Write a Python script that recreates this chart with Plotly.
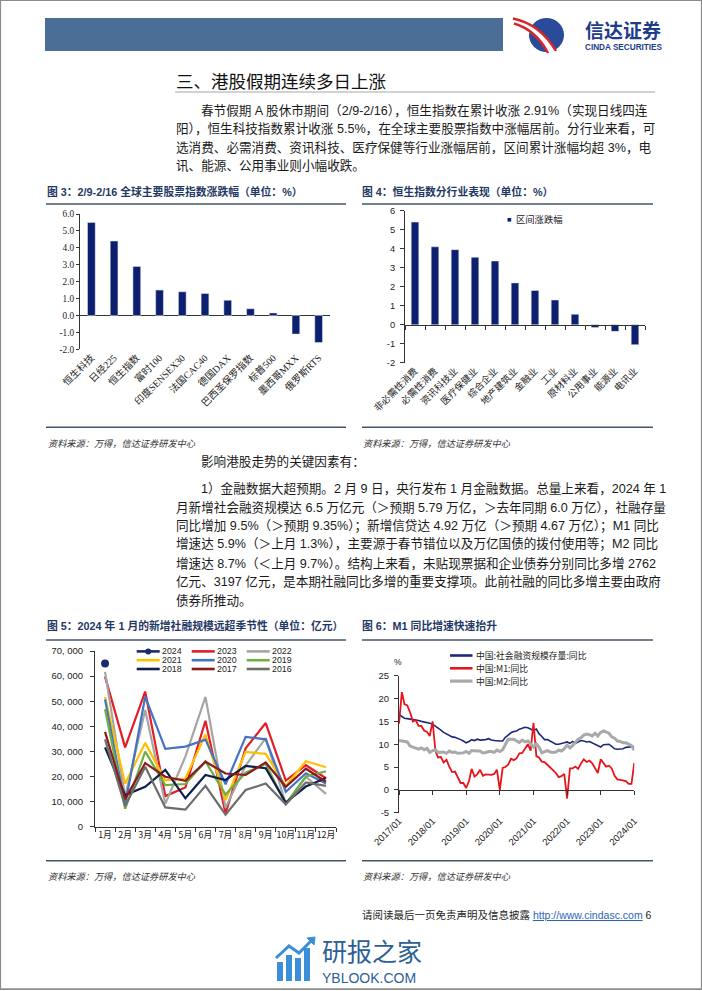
import plotly.graph_objects as go

W, H = 702, 991


def X(p):
    return p / W


def Y(p):
    return 1 - p / H


# ---------------- data ----------------
idx_names = ["恒生科技", "日经225", "恒生指数", "富时100", "印度SENSEX30", "法国CAC40",
             "德国DAX", "巴西圣保罗指数", "标普500", "墨西哥MXX", "俄罗斯RTS"]
idx_chg = [5.5, 4.4, 2.9, 1.5, 1.4, 1.3, 0.9, 0.4, 0.15, -1.1, -1.6]
c3_ticks = [-2, -1, 0, 1, 2, 3, 4, 5, 6]
c3_ticktext = ["-2.0", "-1.0", "0.0", "1.0", "2.0", "3.0", "4.0", "5.0", "6.0"]

sector_names = ["非必需性消费", "必需性消费", "资讯科技业", "医疗保健业", "综合企业", "地产建筑业",
                "金融业", "工业", "原材料业", "公用事业", "能源业", "电讯业"]
sector_chg = [5.4, 4.1, 3.95, 3.55, 3.35, 2.2, 1.8, 1.3, 0.55, -0.15, -0.35, -1.05]
sector_legend = "区间涨跌幅"
c4_ticks = [-2, -1, 0, 1, 2, 3, 4, 5, 6]
c4_ticktext = ["-2", "-1", "0", "1", "2", "3", "4", "5", "6"]

months = ["1月", "2月", "3月", "4月", "5月", "6月", "7月", "8月", "9月", "10月", "11月", "12月"]
tsf_2024 = [65000]
tsf_2023 = [59800, 31600, 53800, 12200, 15600, 42200, 5300, 31200, 41300, 18400, 24500, 19300]
tsf_2022 = [61700, 11900, 46500, 9100, 27900, 51700, 7600, 24300, 35300, 9100, 19900, 13100]
tsf_2021 = [51700, 17100, 33400, 18500, 19200, 36700, 10600, 29800, 29000, 16200, 26100, 23700]
tsf_2020 = [50700, 8600, 51800, 31000, 31900, 34700, 16900, 35800, 34800, 13900, 21300, 17200]
tsf_2019 = [46800, 7100, 29900, 16600, 17000, 26000, 12800, 21500, 25000, 9000, 20000, 22100]
tsf_2018 = [31600, 12600, 15900, 22600, 11300, 20600, 18600, 24200, 23300, 9600, 16000, 19400]
tsf_2017 = [37800, 11000, 25300, 19900, 18300, 25900, 21200, 20600, 25600, 15900, 23100, 17900]
tsf_2016 = [34800, 8200, 23900, 7700, 6800, 16300, 4800, 14600, 17200, 8900, 17600, 16300]
tsf_years = ["2024", "2023", "2022", "2021", "2020", "2019", "2018", "2017", "2016"]
tsf_series = [tsf_2024, tsf_2023, tsf_2022, tsf_2021, tsf_2020, tsf_2019, tsf_2018, tsf_2017, tsf_2016]
c5_ticks = [0, 10000, 20000, 30000, 40000, 50000, 60000, 70000]
c5_ticktext = ["0", "10, 000", "20, 000", "30, 000", "40, 000", "50, 000", "60, 000", "70, 000"]

tsf_stock_yoy = [
    16.5, 16.0, 15.7, 15.6, 15.5, 15.5, 15.3, 15.2, 15.0, 14.9, 14.8, 14.6,
    14.4, 14.0, 13.5, 13.1, 12.6, 12.3, 12.0, 11.6, 11.5, 11.3, 11.0, 10.7,
    10.3, 10.6, 11.0, 10.8, 11.1, 10.9, 10.9, 11.0, 11.2, 10.9, 10.8, 10.7,
    10.7, 10.7, 11.5, 12.0, 12.5, 12.8, 12.9, 13.3, 13.5, 13.7, 13.6, 13.3,
    13.0, 13.3, 12.3, 11.7, 11.0, 11.0, 10.7, 10.3, 10.0, 10.0, 10.1, 10.3,
    10.5, 10.2, 10.6, 10.2, 10.5, 10.8, 10.7, 10.5, 10.6, 10.3, 10.0, 9.6,
    9.4, 9.9, 10.0, 10.0, 9.5, 9.0, 8.9, 9.0, 9.0, 9.3, 9.4, 9.5,
    9.5]
m1_yoy = [
    14.5, 21.4, 18.8, 18.5, 17.0, 15.0, 15.3, 14.0, 14.0, 13.0, 12.7, 11.8,
    15.0, 8.5, 7.1, 7.2, 6.0, 6.6, 5.1, 3.9, 4.0, 2.7, 1.5, 1.5,
    0.4, 2.0, 4.6, 2.9, 3.4, 4.4, 3.1, 3.4, 3.4, 3.3, 3.5, 4.4,
    0.0, 4.8, 5.0, 5.5, 6.8, 6.5, 6.9, 8.0, 8.1, 9.1, 10.0, 8.6,
    14.7, 7.4, 7.1, 6.2, 6.1, 5.5, 4.9, 4.2, 3.7, 2.8, 3.0, 3.5,
    -1.9, 4.7, 4.7, 5.1, 4.6, 5.8, 6.7, 6.1, 6.4, 5.8, 4.6, 3.7,
    6.7, 5.8, 5.1, 5.3, 4.7, 3.1, 2.3, 2.2, 2.1, 1.9, 1.3, 1.3,
    5.9]
m2_yoy = [
    10.8, 10.7, 10.6, 10.5, 9.6, 9.4, 9.2, 8.9, 9.2, 8.8, 9.1, 8.2,
    8.6, 8.8, 8.2, 8.3, 8.3, 8.0, 8.5, 8.2, 8.3, 8.0, 8.0, 8.1,
    8.4, 8.0, 8.6, 8.5, 8.5, 8.5, 8.1, 8.2, 8.4, 8.4, 8.2, 8.7,
    8.4, 8.8, 10.1, 11.1, 11.1, 11.1, 10.7, 10.4, 10.9, 10.5, 10.7, 10.1,
    9.4, 10.1, 9.4, 8.1, 8.3, 8.6, 8.3, 8.2, 8.3, 8.7, 8.5, 9.0,
    9.8, 9.2, 9.7, 10.5, 11.1, 11.4, 12.0, 12.2, 12.1, 11.8, 12.4, 11.8,
    12.6, 12.9, 12.7, 12.4, 11.6, 11.3, 10.7, 10.6, 10.3, 10.3, 10.0, 9.7,
    8.7]
c6_names = ["中国:社会融资规模存量:同比", "中国:M1:同比", "中国:M2:同比"]
c6_dates = [f"{2017 + i // 12}-{i % 12 + 1:02d}-01" for i in range(len(m1_yoy))]
c6_tickvals = ["2017-01-01", "2018-01-01", "2019-01-01", "2020-01-01",
               "2021-01-01", "2022-01-01", "2023-01-01", "2024-01-01"]
c6_ticktext = ["2017/01", "2018/01", "2019/01", "2020/01", "2021/01", "2022/01", "2023/01", "2024/01"]
c6_yticks = [-5, 0, 5, 10, 15, 20, 25]
c6_yticktext = ["-5", "0", "5", "10", "15", "20", "25"]

# ---------------- styles ----------------
SANS = "Liberation Sans, Noto Sans CJK SC, sans-serif"
SERIF = "Liberation Serif, Noto Sans CJK SC, serif"
CJK = "Noto Sans CJK SC, sans-serif"
BAR = "#0d1f6e"
AX = "#333333"
TITLE_C = "#1f3864"
RULE_C = "#44546a"
tsf_colors = ["#1a2a6c", "#e31e24", "#a5a5a5", "#ffc000", "#4472c4", "#70ad47",
              "#0f1e4a", "#8b1a1a", "#6d6d6d"]
c6_colors = ["#1b2a78", "#e8141c", "#a9a9a9"]
c6_widths = [1.6, 1.8, 3.0]

# plot areas in page pixels (left, right, top, bottom)
A3 = (80, 330, 214, 349.3)
A4 = (405, 645, 210.7, 362.7)
A5 = (95, 336, 651, 826.7)
A6 = (399, 634.3, 675.7, 812.7)


def dom(a):
    return [X(a[0]), X(a[1])], [Y(a[3]), Y(a[2])]


def zero_pos(a, lo, hi):
    return Y(a[2] + (hi - 0) / (hi - lo) * (a[3] - a[2]))


fig = go.Figure()

# chart 3
fig.add_trace(go.Bar(x=idx_names, y=idx_chg, marker_color=BAR, width=0.34,
                     xaxis="x", yaxis="y", showlegend=False))
# chart 4
fig.add_trace(go.Bar(x=sector_names, y=sector_chg, marker_color=BAR, width=0.38,
                     xaxis="x2", yaxis="y2", name=sector_legend, showlegend=False))
fig.add_trace(go.Scatter(x=sector_names, y=[None] * len(sector_names), mode="lines",
                         xaxis="x5", yaxis="y2", showlegend=False, hoverinfo="skip"))
# chart 5
for yr, vals, col in zip(tsf_years, tsf_series, tsf_colors):
    if len(vals) == 1:
        fig.add_trace(go.Scatter(x=months[:len(vals)], y=vals, mode="markers", name=yr,
                                 marker=dict(color=col, size=8), xaxis="x3", yaxis="y3",
                                 showlegend=False))
    else:
        fig.add_trace(go.Scatter(x=months[:len(vals)], y=vals, mode="lines", name=yr,
                                 line=dict(color=col, width=2.2), xaxis="x3", yaxis="y3",
                                 showlegend=False))
# chart 6
for nm, vals, col, wd in zip(c6_names, [tsf_stock_yoy, m1_yoy, m2_yoy], c6_colors, c6_widths):
    fig.add_trace(go.Scatter(x=c6_dates, y=vals, mode="lines", name=nm,
                             line=dict(color=col, width=wd), xaxis="x4", yaxis="y4",
                             showlegend=False))
fig.add_trace(go.Scatter(x=[c6_dates[0], c6_dates[-1]], y=[None, None], mode="lines",
                         xaxis="x6", yaxis="y4", showlegend=False, hoverinfo="skip"))

d3x, d3y = dom(A3)
d4x, d4y = dom(A4)
d5x, d5y = dom(A5)
d6x, d6y = dom(A6)

common = dict(showgrid=False, automargin=False, fixedrange=True)

fig.update_layout(
    width=W, height=H, autosize=False,
    margin=dict(l=0, r=0, t=0, b=0),
    paper_bgcolor="white", plot_bgcolor="rgba(0,0,0,0)",
    showlegend=False,
    xaxis=dict(domain=d3x, anchor="y", type="category", range=[-0.5, 10.5],
               showline=False, ticks="", tickangle=-45,
               tickfont=dict(family=SERIF, size=9.8, color="#222"), **common),
    yaxis=dict(domain=d3y, anchor="x", range=[-2, 6], tickvals=c3_ticks, ticktext=c3_ticktext,
               showline=True, linecolor=AX, linewidth=1, ticks="outside", ticklen=3,
               tickcolor=AX, tickfont=dict(family=SERIF, size=9.3, color="#222"),
               zeroline=True, zerolinecolor=AX, zerolinewidth=1, **common),
    xaxis2=dict(domain=d4x, anchor="y2", type="category", range=[-0.5, 11.5],
                showline=False, ticks="", tickangle=-45,
                tickfont=dict(family=SERIF, size=9.5, color="#222"), **common),
    yaxis2=dict(domain=d4y, anchor="x2", range=[-2, 6], tickvals=c4_ticks, ticktext=c4_ticktext,
                showline=True, linecolor=AX, linewidth=1, ticks="outside", ticklen=4,
                tickcolor=AX, ticklabelstandoff=3,
                tickfont=dict(family=SANS, size=9.3, color="#222"),
                zeroline=False, **common),
    xaxis5=dict(overlaying="x2", anchor="free", position=zero_pos(A4, -2, 6), type="category",
                categoryorder="array", categoryarray=sector_names, range=[-0.5, 11.5],
                tickson="boundaries", ticks="outside", ticklen=4, tickcolor=AX,
                showticklabels=False, showline=True, linecolor=AX, linewidth=1, **common),
    xaxis3=dict(domain=d5x, anchor="y3", type="category", range=[-0.5, 11.5],
                tickson="boundaries", ticks="outside", ticklen=4, tickcolor=AX,
                tickangle=0, showline=True, linecolor=AX, linewidth=1,
                tickfont=dict(family=CJK, size=8.8, color="#222"), **common),
    yaxis3=dict(domain=d5y, anchor="x3", range=[0, 70000], tickvals=c5_ticks, ticktext=c5_ticktext,
                showline=True, linecolor=AX, linewidth=1, ticks="outside", ticklen=4,
                tickcolor=AX, ticklabelstandoff=5,
                tickfont=dict(family=SANS, size=9.5, color="#222"), zeroline=False, **common),
    xaxis4=dict(domain=d6x, anchor="y4", type="date", range=[c6_tickvals[0], c6_tickvals[-1]],
                tickvals=c6_tickvals, ticktext=c6_ticktext, tickangle=-45, ticks="",
                showline=False, tickfont=dict(family=SANS, size=9.5, color="#222"), **common),
    yaxis4=dict(domain=d6y, anchor="x4", range=[-5, 25], tickvals=c6_yticks, ticktext=c6_yticktext,
                showline=True, linecolor=AX, linewidth=1, ticks="outside", ticklen=4,
                tickcolor=AX, ticklabelstandoff=3,
                tickfont=dict(family=SANS, size=9.5, color="#222"),
                zeroline=False, **common),
    xaxis6=dict(overlaying="x4", anchor="free", position=zero_pos(A6, -5, 25), type="date",
                range=[c6_tickvals[0], c6_tickvals[-1]], tickvals=c6_tickvals,
                ticks="outside", ticklen=4, tickcolor=AX, showticklabels=False,
                showline=True, linecolor=AX, linewidth=1, **common),
)

shapes = []
ann = []


def line(x0, y0, x1, y1, color, width):
    shapes.append(dict(type="line", xref="paper", yref="paper", x0=X(x0), y0=Y(y0),
                       x1=X(x1), y1=Y(y1), line=dict(color=color, width=width)))


def rect(x0, y0, x1, y1, fill, lc=None, lw=0):
    shapes.append(dict(type="rect", xref="paper", yref="paper", x0=X(x0), y0=Y(y0),
                       x1=X(x1), y1=Y(y1), fillcolor=fill,
                       line=dict(color=lc or "rgba(0,0,0,0)", width=lw)))


def circle(x0, y0, x1, y1, fill):
    shapes.append(dict(type="circle", xref="paper", yref="paper", x0=X(x0), y0=Y(y0),
                       x1=X(x1), y1=Y(y1), fillcolor=fill, line=dict(width=0)))


def path(cmds, color, width, fill=None):
    parts = []
    for c in cmds:
        op, nums = c[0], c[1:]
        pts = []
        for i in range(0, len(nums), 2):
            pts.append(f"{X(nums[i]):.5f},{Y(nums[i + 1]):.5f}")
        parts.append(op + " " + " ".join(pts))
    shapes.append(dict(type="path", xref="paper", yref="paper", path=" ".join(parts),
                       line=dict(color=color, width=width),
                       fillcolor=fill or "rgba(0,0,0,0)"))


def text(x, y, s, size, color="#1a1a1a", family=SANS, anchor="left", bold=False, italic=False):
    ann.append(dict(xref="paper", yref="paper", x=X(x), y=Y(y), text=(f"<b>{s}</b>" if bold else s),
                    showarrow=False, xanchor=anchor, yanchor="middle", borderpad=0,
                    font=dict(family=family, size=size, color=color,
                              style="italic" if italic else "normal")))


# page frame
rect(0.5, 0.5, 701.5, 989.5, "rgba(0,0,0,0)", "#8c8c8c", 1.2)

# header bar + logo
rect(45, 18, 503, 51, "#4b6e96")
circle(529, 18, 564, 52, "#2a4a9a")
path([("M", 513, 21), ("Q", 538, 27, 552, 53)], "white", 7)
path([("M", 513, 18.5), ("Q", 540, 24, 556, 51)], "#d7262b", 2.4)
path([("M", 514, 23.5), ("Q", 536, 30, 548, 53)], "#d7262b", 2.4)
text(584, 29.5, "信达证券", 19, "#1d3c8c", CJK, bold=True)
text(584, 48, "CINDA SECURITIES", 8.2, "#1d3c8c", SANS, bold=True)

# section title
text(175, 80, "三、港股假期连续多日上涨", 17.5, "#111111", CJK)
line(175, 92, 655, 92, "#a6a6a6", 1)

P = 12.6
para1 = [
    (200, 110.0, "春节假期 A 股休市期间（2/9-2/16），恒生指数在累计收涨 2.91%（实现日线四连"),
    (175, 128.6, "阳），恒生科技指数累计收涨 5.5%，在全球主要股票指数中涨幅居前。分行业来看，可"),
    (175, 147.2, "选消费、必需消费、资讯科技、医疗保健等行业涨幅居前，区间累计涨幅均超 3%，电"),
    (175, 165.8, "讯、能源、公用事业则小幅收跌。"),
]
for x, y, s in para1:
    text(x, y, s, P, "#1a1a1a", SANS)

para2 = [
    (200, 461.7, "影响港股走势的关键因素有："),
    (200, 488.3, "1）金融数据大超预期。2 月 9 日，央行发布 1 月金融数据。总量上来看，2024 年 1"),
    (175, 507.0, "月新增社会融资规模达 6.5 万亿元（＞预期 5.79 万亿，＞去年同期 6.0 万亿），社融存量"),
    (175, 525.7, "同比增加 9.5%（＞预期 9.35%）；新增信贷达 4.92 万亿（＞预期 4.67 万亿）；M1 同比"),
    (175, 544.4, "增速达 5.9%（＞上月 1.3%），主要源于春节错位以及万亿国债的拨付使用等；M2 同比"),
    (175, 563.1, "增速达 8.7%（＜上月 9.7%）。结构上来看，未贴现票据和企业债券分别同比多增 2762"),
    (175, 581.8, "亿元、3197 亿元，是本期社融同比多增的重要支撑项。此前社融的同比多增主要由政府"),
    (175, 600.5, "债券所推动。"),
]
for x, y, s in para2:
    text(x, y, s, P, "#1a1a1a", SANS)

# figure titles and rules
FT = 10.8
text(46, 191, "图 3：2/9-2/16 全球主要股票指数涨跌幅（单位：%）", FT, TITLE_C, SANS, bold=True)
text(361, 191, "图 4：恒生指数分行业表现（单位：%）", FT, TITLE_C, SANS, bold=True)
text(46, 625, "图 5：2024 年 1 月的新增社融规模远超季节性（单位：亿元）", FT, TITLE_C, SANS, bold=True)
text(361, 625, "图 6：M1 同比增速快速抬升", FT, TITLE_C, SANS, bold=True)
for yy in (204, 427.3, 640, 860.7):
    line(46, yy, 346, yy, RULE_C, 1.6)
    line(362, yy, 653, yy, RULE_C, 1.6)

src = "资料来源：万得，信达证券研发中心"
for xx, yy in ((47, 442.7), (362, 442.7), (47, 876), (362, 876)):
    text(xx, yy, src, 9.2, "#333333", CJK, italic=True)

# chart 4 legend
text(506, 219, "■", 7.5, BAR, SANS)
text(515, 219, sector_legend, 9.3, "#222", CJK)

# chart 5 legend (3 x 3)
col_x = [136.7, 191.7, 246.7]
row_y = [651.4, 660.2, 669.0]
for i, (yr, col) in enumerate(zip(tsf_years, tsf_colors)):
    cx = col_x[i % 3]
    ry = row_y[i // 3]
    line(cx, ry, cx + 23, ry, col, 2.6)
    if i == 0:
        circle(cx + 8.5, ry - 3, cx + 14.5, ry + 3, col)
    text(cx + 24.5, ry, yr, 8.8, "#222", SANS)

# chart 6 legend
for i, (nm, col) in enumerate(zip(c6_names, c6_colors)):
    ry = 655.5 + i * 12.8
    line(450, ry, 472.5, ry, col, 2.6 if i < 2 else 3.2)
    text(474.5, ry, nm, 8.8, "#222", CJK)
text(398, 661.5, "%", 8.5, "#222", SANS, anchor="center")

# footer
text(653, 915, "请阅读最后一页免责声明及信息披露 <span style='color:#2e64b8'><u>http://www.cindasc.com</u></span> 6",
     10.5, "#222", SANS, anchor="right")

# watermark
wm = "#2c5f96"
rect(277, 962, 283, 981, "#3b8fd9")
rect(286, 955, 292, 981, "#3b8fd9")
rect(295, 958, 301, 981, "#3b8fd9")
rect(304, 948, 310, 981, "#3b8fd9")
path([("M", 276, 958), ("L", 289, 946), ("L", 299, 953), ("L", 312, 940)], "#3b8fd9", 3)
path([("M", 307, 938), ("L", 315, 937), ("L", 314, 945), ("Z",)], "#3b8fd9", 1, "#3b8fd9")
text(321, 950, "研报之家", 25, wm, CJK)
text(321, 977.5, "YBLOOK.COM", 14, wm, SANS)
line(0, 989, 702, 989, "#8c8c8c", 1.5)

fig.update_layout(shapes=shapes, annotations=ann)

fig.write_html("out.html", config={"displayModeBar": False},
               post_script="document.body.style.margin='0';")
